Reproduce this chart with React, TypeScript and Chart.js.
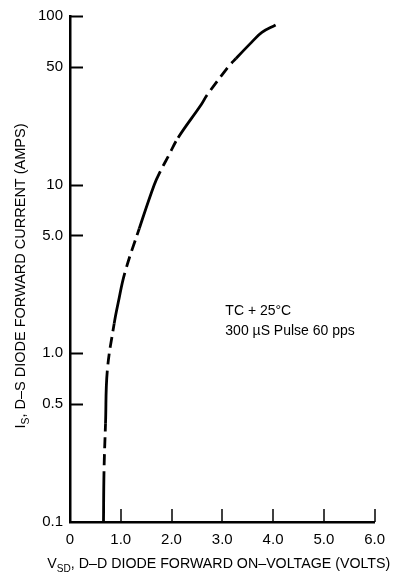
import React, { useEffect, useRef } from "react";
import { Chart, registerables } from "chart.js";

Chart.register(...registerables);

// Forward voltage (V) and diode current (A)
const vsdVolts = [0.66, 0.67, 0.70, 0.735, 0.87, 0.95, 1.08, 1.365, 1.66, 1.78, 1.95, 2.13, 2.59, 2.70, 3.12, 3.27, 3.58, 3.78, 4.05];
const isAmps = [0.1, 0.2, 0.385, 0.79, 1.5, 2.0, 3.0, 5.5, 10, 12, 15, 19, 30, 34, 50, 56, 70, 80, 88.5];
// line style of the segment starting at each point
const segmentStyle = ["solid", "dash", "solid", "dash", "solid", "solid", "dash", "solid", "solid", "dash", "dash", "solid", "solid", "dash", "dash", "solid", "solid", "solid", "solid"];

const xTickValues = [0, 1, 2, 3, 4, 5, 6];
const xTickLabels = ["0", "1.0", "2.0", "3.0", "4.0", "5.0", "6.0"];
const yTickValues = [0.1, 0.5, 1, 5, 10, 50, 100];
const yTickLabels = ["0.1", "0.5", "1.0", "5.0", "10", "50", "100"];

const xTitleMain = "V";
const xTitleSub = "SD";
const xTitleRest = ", D\u2013D DIODE FORWARD ON\u2013VOLTAGE (VOLTS)";
const yTitleMain = "I";
const yTitleSub = "S";
const yTitleRest = ", D\u2013S DIODE FORWARD CURRENT (AMPS)";
const noteLines = ["TC + 25\u00b0C", "300 \u00b5S Pulse 60 pps"];
const noteAnchor = { x: 3.06, y: 1.68 };

const FONT = "'Liberation Sans', Arial, sans-serif";

const paintSubText = (
  ctx: CanvasRenderingContext2D,
  main: string,
  sub: string,
  rest: string,
  size: number,
  x: number,
  y: number,
  targetWidth: number
) => {
  const big = `${size}px ${FONT}`;
  const small = `${Math.round(size * 0.72)}px ${FONT}`;
  ctx.font = big;
  const w1 = ctx.measureText(main).width;
  const w3 = ctx.measureText(rest).width;
  ctx.font = small;
  const w2 = ctx.measureText(sub).width;
  const total = w1 + w2 + w3;
  const k = targetWidth / total;
  ctx.save();
  ctx.translate(x, y);
  ctx.scale(k, 1);
  let cx = -total / 2;
  ctx.textAlign = "left";
  ctx.textBaseline = "alphabetic";
  ctx.font = big;
  ctx.fillText(main, cx, 0);
  cx += w1;
  ctx.font = small;
  ctx.fillText(sub, cx, size * 0.28);
  cx += w2;
  ctx.font = big;
  ctx.fillText(rest, cx, 0);
  ctx.restore();
};

const decorPlugin = {
  id: "decor",
  afterDraw(chart: any) {
    const ctx = chart.ctx as CanvasRenderingContext2D;
    const { left, right, top, bottom } = chart.chartArea;
    const xs = chart.scales.x;
    const ys = chart.scales.y;
    ctx.save();
    ctx.strokeStyle = "#000";
    ctx.fillStyle = "#000";
    // inward ticks
    ctx.lineWidth = 2;
    yTickValues.forEach((v) => {
      if (v === ys.min) return;
      const py = Math.round(ys.getPixelForValue(v)) + 0.5;
      ctx.beginPath();
      ctx.moveTo(left, py);
      ctx.lineTo(left + 13, py);
      ctx.stroke();
    });
    ctx.lineWidth = 1.5;
    xTickValues.forEach((v) => {
      if (v === xs.min) return;
      const px = Math.round(xs.getPixelForValue(v));
      ctx.beginPath();
      ctx.moveTo(px, bottom);
      ctx.lineTo(px, bottom - 13);
      ctx.stroke();
    });
    // axis titles
    paintSubText(ctx, xTitleMain, xTitleSub, xTitleRest, 15.5, (left + right) / 2 - 3.5, 568, 343);
    ctx.save();
    ctx.translate(25, (top + bottom) / 2 + 7);
    ctx.rotate(-Math.PI / 2);
    paintSubText(ctx, yTitleMain, yTitleSub, yTitleRest, 15.5, 0, 0, 305);
    ctx.restore();
    // note
    ctx.font = `14px ${FONT}`;
    ctx.textAlign = "left";
    ctx.textBaseline = "alphabetic";
    const nx = xs.getPixelForValue(noteAnchor.x);
    const ny = ys.getPixelForValue(noteAnchor.y);
    noteLines.forEach((t, i) => ctx.fillText(t, nx, ny + i * 20));
    ctx.restore();
  },
};

export default function App() {
  const ref = useRef<HTMLCanvasElement>(null);
  useEffect(() => {
    document.body.style.margin = "0";
    const canvas = ref.current!;
    const points = vsdVolts.map((v, i) => ({ x: v, y: isAmps[i] }));
    const chart = new Chart(canvas, {
      type: "line",
      data: {
        datasets: [
          {
            data: points,
            borderColor: "#000",
            borderWidth: 2.8,
            pointRadius: 0,
            tension: 0.4,
            fill: false,
            borderCapStyle: "butt",
            segment: {
              borderDash: (c: any) => (segmentStyle[c.p0DataIndex] === "dash" ? [11, 6] : []),
              borderDashOffset: (c: any) => (segmentStyle[c.p0DataIndex] === "dash" ? 11 : 0),
            },
          } as any,
        ],
      },
      options: {
        animation: false,
        responsive: false,
        devicePixelRatio: 1,
        events: [],
        layout: { padding: { top: 15, right: 14, left: 0, bottom: 0 } },
        plugins: { legend: { display: false }, tooltip: { enabled: false } },
        scales: {
          x: {
            type: "linear",
            min: 0,
            max: 6,
            afterFit: (s: any) => {
              s.height = 53;
            },
            afterBuildTicks: (s: any) => {
              s.ticks = xTickValues.map((v) => ({ value: v }));
            },
            ticks: {
              autoSkip: false,
              maxRotation: 0,
              padding: 9,
              color: "#000",
              font: { family: FONT, size: 15 },
              callback: (_v: any, i: number) => xTickLabels[i],
            },
            grid: { display: true, drawOnChartArea: false, drawTicks: false },
            border: { display: true, color: "#000", width: 2.5 },
          },
          y: {
            type: "logarithmic",
            min: 0.1,
            max: 100,
            afterFit: (s: any) => {
              s.width = 70;
            },
            afterBuildTicks: (s: any) => {
              s.ticks = yTickValues.map((v) => ({ value: v }));
            },
            ticks: {
              autoSkip: false,
              padding: 7,
              color: "#000",
              font: { family: FONT, size: 15 },
              callback: (_v: any, i: number) => yTickLabels[i],
            },
            grid: { display: true, drawOnChartArea: false, drawTicks: false },
            border: { display: true, color: "#000", width: 2.5 },
          },
        },
      } as any,
      plugins: [decorPlugin],
    });
    return () => chart.destroy();
  }, []);
  return (
    <div style={{ position: "fixed", left: 0, top: 0, width: 394, height: 575, background: "#fff" }}>
      <canvas ref={ref} width={394} height={575} />
    </div>
  );
}
